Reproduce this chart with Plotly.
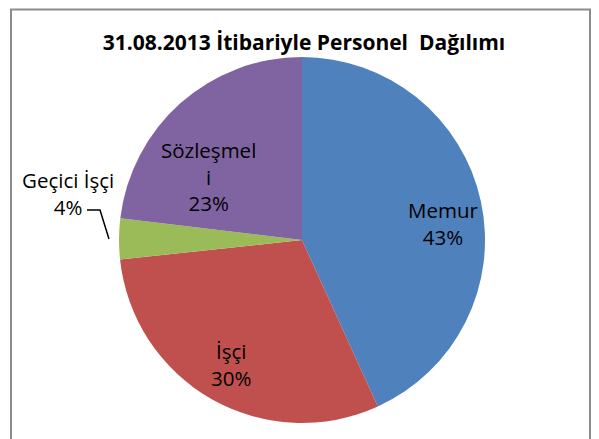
import plotly.graph_objects as go

# Personel dağılımı (yüzde)
categories = ['Memur', 'İşçi', 'Geçici İşçi', 'Sözleşmeli']
values = [43.2, 30.1, 3.6, 23.1]
label_texts = ['Memur<br>43%', 'İşçi<br>30%', 'Geçici İşçi<br>4%', 'Sözleşmel<br>i<br>23%']
colors = ['#4F81BD', '#C0504D', '#9BBB59', '#8064A2']

W, H = 599, 439
OFF = 8  # sayfa kenar boşluğu telafisi
cx, cy, r = 302, 240, 183


def px(x):
    return (x - OFF) / W


def py(y):
    return 1 - (y - OFF) / H


fig = go.Figure(go.Pie(
    labels=categories,
    values=values,
    marker=dict(colors=colors, line=dict(width=0)),
    sort=False,
    direction='clockwise',
    rotation=0,
    textinfo='none',
    hoverinfo='label+percent',
    showlegend=False,
    domain=dict(x=[px(cx - r), px(cx + r)], y=[py(cy + r), py(cy - r)]),
))

# Etiket konumları (piksel)
label_pos = [(443, 223), (231, 364), (68, 193), (208, 176)]
font = dict(family='Open Sans, sans-serif', size=20.5, color='#000000')
for txt, (x, y) in zip(label_texts, label_pos):
    fig.add_annotation(
        x=px(x), y=py(y), xref='paper', yref='paper',
        text=txt, showarrow=False, font=font,
        xanchor='center', yanchor='middle', align='center'
    )

fig.update_layout(
    width=W,
    height=H,
    margin=dict(l=0, r=0, t=0, b=0),
    paper_bgcolor='white',
    title=dict(
        text='<b>31.08.2013 İtibariyle Personel  Dağılımı</b>',
        x=px(304), y=py(43), xanchor='center', yanchor='middle',
        font=dict(family='Open Sans, sans-serif', size=21, color='#000000')
    ),
    shapes=[
        # grafik alanı çerçevesi
        dict(type='rect', xref='paper', yref='paper',
             x0=px(11), x1=px(590), y0=py(470), y1=py(9.5),
             line=dict(color='#8c8c8c', width=2)),
        # Geçici İşçi kılavuz çizgisi
        dict(type='path', xref='paper', yref='paper',
             path=f'M {px(87)},{py(210)} L {px(100)},{py(210)} L {px(109)},{py(239)}',
             line=dict(color='#000000', width=1.5)),
    ],
)

fig.write_html('out.html')
